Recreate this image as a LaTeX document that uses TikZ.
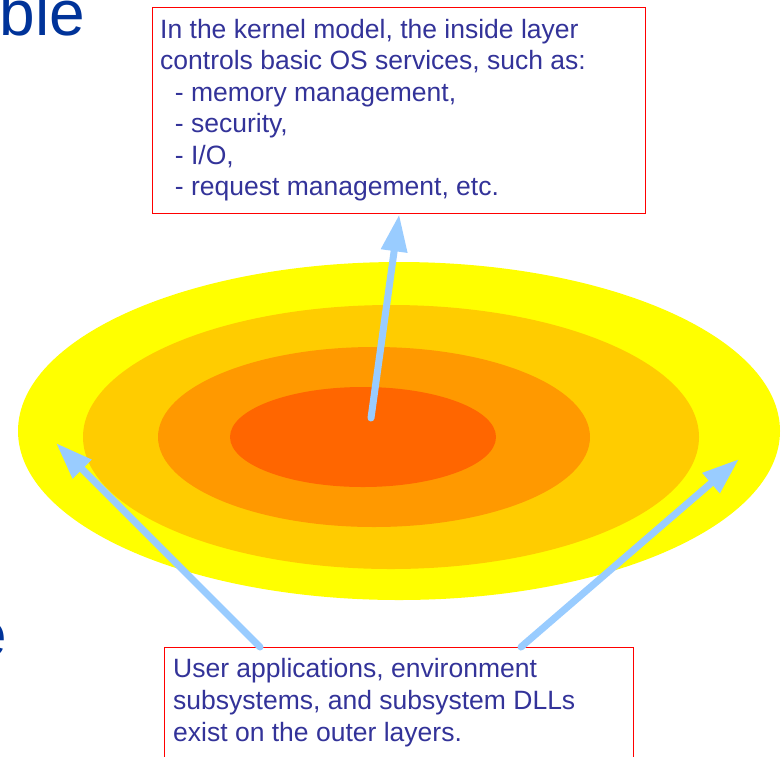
\documentclass[tikz,border=0pt]{standalone}
\usepackage{fontspec}
\setmainfont{Liberation Sans}
\usetikzlibrary{arrows.meta,shapes.geometric}
\definecolor{ringA}{HTML}{FFFF00}
\definecolor{ringB}{HTML}{FFCC00}
\definecolor{ringC}{HTML}{FF9900}
\definecolor{ringD}{HTML}{FF6600}
\definecolor{arrowblue}{HTML}{99CCFF}
\definecolor{boxtext}{HTML}{333399}
\definecolor{titleblue}{HTML}{003399}
\definecolor{boxred}{HTML}{FF0000}
\tikzset{
  ring/.style={ellipse, draw=none, inner sep=0pt},
  callout/.style={draw=boxred, line width=1.4pt, fill=white, inner sep=0pt, anchor=north west},
  calltext/.style={anchor=base west, inner sep=0pt, text=boxtext},
  bluearrow/.style={draw=arrowblue, line width=7pt, line cap=round,
    -{Triangle[length=37pt,width=25pt]}},
  slidetext/.style={anchor=base east, inner sep=0pt, text=titleblue, font=\fontsize{64}{70}\selectfont}
}
\begin{document}
\begin{tikzpicture}[x=1pt,y=-1pt]
\useasboundingbox (0,0) rectangle (784,756);
\clip (0,0) rectangle (784,756);
\fill[white] (0,0) rectangle (784,756);
% fragments of slide text
\node[slidetext] (t1) at (85.5,35) {ble};
\node[slidetext] (t2) at (7,656) {e};
% layers
\node[ring, fill=ringA, minimum width=762pt, minimum height=338pt] (outer) at (399,431) {};
\node[ring, fill=ringB, minimum width=616pt, minimum height=264pt] (middle) at (391,437) {};
\node[ring, fill=ringC, minimum width=432pt, minimum height=180pt] (inner) at (374,437) {};
\node[ring, fill=ringD, minimum width=266pt, minimum height=100pt] (core) at (363,437) {};
% callout boxes
\node[callout, minimum width=493pt, minimum height=206pt] (topbox) at (152,7) {};
\node[calltext] (toptext) at (160,38) {\parbox[t]{480pt}{\fontsize{26.5}{31.5}\selectfont\raggedright
In the kernel model, the inside layer\\
controls basic OS services, such as:\\
\hspace*{0.556em}- memory management,\\
\hspace*{0.556em}- security,\\
\hspace*{0.556em}- I/O,\\
\hspace*{0.556em}- request management, etc.}};
\node[callout, minimum width=469pt, minimum height=130pt] (botbox) at (164,647) {};
\node[calltext] (bottext) at (173,677) {\parbox[t]{460pt}{\fontsize{26.5}{32.2}\selectfont\raggedright
User applications, environment\\
subsystems, and subsystem DLLs\\
exist on the outer layers.}};
% connector end points
\coordinate (coreA) at (371,418);
\coordinate (leftT) at (260,647);
\coordinate (rightT) at (521,647);
\coordinate (leftH) at (56,443);
\coordinate (rightH) at (739,459);
% arrows
\draw[bluearrow] (coreA) -- (topbox.south);
\draw[bluearrow] (leftT) -- (leftH);
\draw[bluearrow] (rightT) -- (rightH);
\end{tikzpicture}
\end{document}
